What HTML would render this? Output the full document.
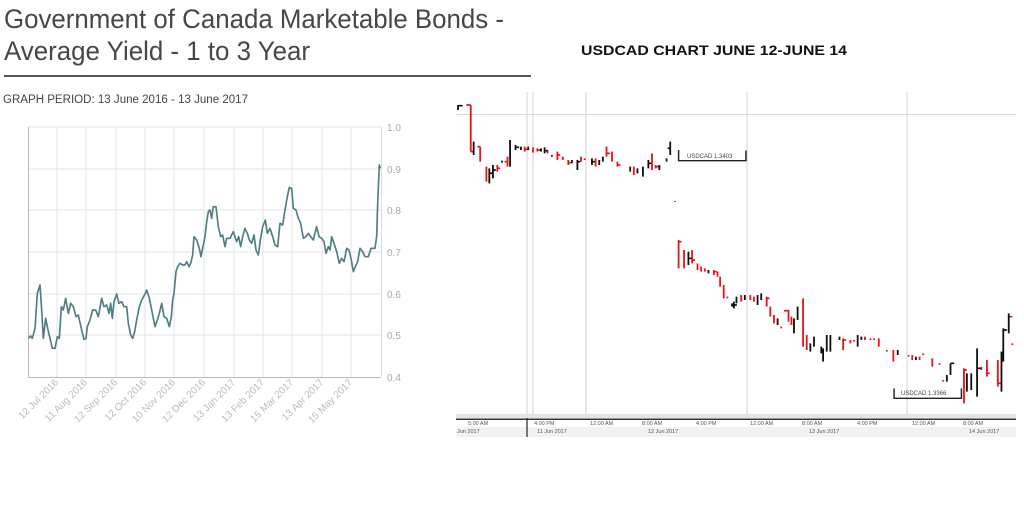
<!DOCTYPE html>
<html><head><meta charset="utf-8"><style>
html,body{margin:0;padding:0;background:#fff;width:1024px;height:528px;overflow:hidden}
svg{display:block}
</style></head><body>
<svg width="1024" height="528" viewBox="0 0 1024 528" xmlns="http://www.w3.org/2000/svg" font-family="Liberation Sans, sans-serif">
<rect width="1024" height="528" fill="#fff"/>
<text x="4" y="28" font-size="27" fill="#45474d" textLength="500" lengthAdjust="spacingAndGlyphs">Government of Canada Marketable Bonds -</text>
<text x="4" y="60" font-size="27" fill="#45474d" textLength="306" lengthAdjust="spacingAndGlyphs">Average Yield - 1 to 3 Year</text>
<rect x="4" y="75" width="527" height="2" fill="#555"/>
<text x="3" y="103" font-size="11.5" fill="#444" textLength="245" lengthAdjust="spacingAndGlyphs">GRAPH PERIOD: 13 June 2016 - 13 June 2017</text>
<text x="714" y="55" font-size="14" font-weight="bold" fill="#111" text-anchor="middle" textLength="266" lengthAdjust="spacingAndGlyphs">USDCAD CHART JUNE 12-JUNE 14</text>

<!-- left chart -->
<g stroke="#e6e6e6" stroke-width="1">
<line x1="28" y1="127" x2="381" y2="127"/><line x1="28" y1="169" x2="381" y2="169"/><line x1="28" y1="210" x2="381" y2="210"/><line x1="28" y1="252" x2="381" y2="252"/><line x1="28" y1="294" x2="381" y2="294"/><line x1="28" y1="335" x2="381" y2="335"/>
<line x1="57" y1="127" x2="57" y2="377"/><line x1="86" y1="127" x2="86" y2="377"/><line x1="116" y1="127" x2="116" y2="377"/><line x1="145" y1="127" x2="145" y2="377"/><line x1="174" y1="127" x2="174" y2="377"/><line x1="204" y1="127" x2="204" y2="377"/><line x1="234" y1="127" x2="234" y2="377"/><line x1="263" y1="127" x2="263" y2="377"/><line x1="292" y1="127" x2="292" y2="377"/><line x1="322" y1="127" x2="322" y2="377"/><line x1="351" y1="127" x2="351" y2="377"/>
</g>
<line x1="28.5" y1="127" x2="28.5" y2="377" stroke="#bbb"/>
<line x1="28" y1="377.5" x2="381" y2="377.5" stroke="#bbb"/>
<line x1="381.5" y1="127" x2="381.5" y2="377" stroke="#ddd"/>
<g font-size="10" fill="#aaa">
<text x="387" y="131">1.0</text><text x="387" y="173">0.9</text><text x="387" y="214">0.8</text><text x="387" y="256">0.7</text><text x="387" y="298">0.6</text><text x="387" y="339">0.5</text><text x="387" y="381">0.4</text>
</g>
<g font-size="10" fill="#bbb" text-anchor="end">
<text transform="translate(59,383) rotate(-45)">12 Jul 2016</text>
<text transform="translate(88,383) rotate(-45)">11 Aug 2016</text>
<text transform="translate(118,383) rotate(-45)">12 Sep 2016</text>
<text transform="translate(147,383) rotate(-45)">12 Oct 2016</text>
<text transform="translate(176,383) rotate(-45)">10 Nov 2016</text>
<text transform="translate(206,383) rotate(-45)">12 Dec 2016</text>
<text transform="translate(236,383) rotate(-45)">13 Jan 2017</text>
<text transform="translate(265,383) rotate(-45)">13 Feb 2017</text>
<text transform="translate(294,383) rotate(-45)">15 Mar 2017</text>
<text transform="translate(324,383) rotate(-45)">13 Apr 2017</text>
<text transform="translate(353,383) rotate(-45)">15 May 2017</text>
</g>
<g transform="translate(0,90) scale(0.33333)">
<polyline fill="none" stroke="#4f7f82" stroke-width="5" stroke-linejoin="round" points="85,745 92,738 97,745 105,715 112,610 120,585 125,660 130,745 137,685 143,715 150,745 157,775 165,775 172,740 178,745 184,650 190,660 197,625 205,670 212,640 220,650 228,680 235,675 245,720 252,748 258,745 262,710 270,690 278,660 287,660 295,680 305,625 312,650 320,645 327,670 332,640 337,685 342,635 350,612 357,640 365,635 372,650 380,650 385,700 392,735 398,745 404,725 410,690 418,650 425,630 435,612 440,600 448,625 455,660 465,710 472,690 478,670 485,640 492,680 500,685 508,710 514,680 518,630 522,610 528,545 533,530 540,520 548,525 555,525 560,515 567,530 572,520 578,495 582,440 590,450 598,475 603,500 608,475 615,440 620,395 625,365 630,360 635,385 640,350 648,350 655,410 662,440 668,435 675,470 680,445 690,445 700,425 710,455 716,440 722,470 728,440 735,415 742,430 748,450 755,460 762,435 768,480 775,495 781,450 788,410 796,390 802,430 810,415 818,440 825,465 833,470 840,400 848,405 855,360 862,320 868,292 875,295 880,355 888,360 895,385 902,400 910,445 918,440 925,430 932,440 940,450 946,425 950,410 957,440 965,445 972,455 978,490 985,470 990,480 995,440 1002,460 1010,485 1018,520 1025,505 1032,515 1040,475 1047,480 1053,505 1060,545 1066,530 1073,515 1080,475 1088,485 1095,500 1105,500 1113,475 1125,475 1130,440 1133,340 1138,225 1141,235"/>
</g>

<!-- right chart -->
<line x1="456" y1="114.5" x2="1016" y2="114.5" stroke="#d8d8d8"/>
<g stroke="#e0e0e0" stroke-width="1.5">
<line x1="527" y1="92" x2="527" y2="418"/><line x1="533" y1="92" x2="533" y2="418"/><line x1="586" y1="92" x2="586" y2="418"/><line x1="747" y1="92" x2="747" y2="418"/><line x1="907" y1="92" x2="907" y2="418"/>
</g>
<rect x="456" y="414" width="560" height="4" fill="#e4e4e4"/>
<rect x="456" y="418.5" width="560" height="1.5" fill="#333"/>
<rect x="456" y="427" width="560" height="10" fill="#f2f2f2"/>
<line x1="527" y1="418" x2="527" y2="437" stroke="#222" stroke-width="1.2"/>
<g font-size="5.5" fill="#556">
<text x="468" y="425">5:00 AM</text><text x="534" y="425">4:00 PM</text><text x="590" y="425">12:00 AM</text><text x="642" y="425">8:00 AM</text><text x="696" y="425">4:00 PM</text><text x="750" y="425">12:00 AM</text><text x="802" y="425">8:00 AM</text><text x="857" y="425">4:00 PM</text><text x="912" y="425">12:00 AM</text><text x="963" y="425">8:00 AM</text>
<text x="457" y="433">Jun 2017</text><text x="537" y="433">11 Jun 2017</text><text x="648" y="433">12 Jun 2017</text><text x="809" y="433">13 Jun 2017</text><text x="969" y="433">14 Jun 2017</text>
</g>
<g transform="translate(450,90) scale(0.364,0.33333)" stroke-width="5" fill="none">
<g stroke="#e8141c">
<path d="M57 45V185M83 170V215M100 230V275M130 225V245M158 200V230M205 170V185M228 172V188M240 175V185M268 180V190M295 185V210M310 200V210M325 210V225M360 200V215M370 205V210M400 205V230M430 170V200M445 185V215M460 215V230M505 230V255M555 190V240M565 225V235M618 333V336M628 450V535M643 480V535M665 480V520M680 520V540M690 530V545M700 535V545M725 540V555M735 545V560M742 560V590M752 585V625M762 620V625M800 615V635M825 615V630M835 620V635M870 620V650M880 650V680M890 675V700M910 710V715M920 660V665M930 660V695M938 680V705M970 625V770M980 735V780M1080 745V780M1100 750V760M1110 750V755M1140 740V750M1155 745V750M1165 745V750M1178 745V770M1200 780V785M1218 780V815M1260 795V800M1270 795V810M1290 800V810M1300 790V795M1325 805V830M1345 820V825M1355 870V875M1412 835V940M1460 830V840M1475 810V860M1505 810V890M1545 760V765"/>
<path d="M45 45H57M57 185H66M83 170H75M130 235H138M158 215H150M205 178H215M240 180H248M295 195H303M325 218H333M430 190H440M460 225H468M565 230H578M628 455H636M665 510H673M725 545H733M870 625H878M920 662H930M1080 750H1088M1412 840H1420M1475 850H1483M1505 880H1513M1535 680H1545"/>
</g>
<g stroke="#111">
<path d="M22 45V60M65 155V195M108 235V280M118 225V265M143 212V218M165 150V230M180 165V180M195 170V180M215 170V180M250 175V185M260 172V190M280 195V200M335 210V220M350 210V240M390 205V225M410 210V225M420 200V215M495 230V245M515 235V250M530 230V260M545 210V235M575 225V240M595 205V215M605 155V195M655 485V525M710 540V550M775 640V650M780 635V655M787 620V640M810 615V630M845 615V645M855 610V630M900 685V705M945 685V730M955 650V690M990 760V785M1000 740V770M1020 770V790M1025 775V815M1035 735V785M1045 735V785M1070 740V750M1120 735V770M1130 740V750M1230 780V795M1280 800V810M1365 855V875M1375 820V855M1420 850V905M1432 850V900M1448 775V920M1515 785V905M1520 715V815M1535 670V730"/>
<path d="M22 47H35M108 250H116M118 240H126M180 172H190M260 182H268M350 215H358M390 215H398M545 220H553M605 175H598M655 505H663M780 645H788M1025 785H1018M1375 820H1385M1448 835H1458M1520 720H1530"/>
</g>
<g stroke="#222" stroke-width="4">
<path d="M628 180V212H813V182"/>
<path d="M1220 895V925H1405V895"/>
</g>
</g>
<g fill="#445" font-size="6">
<text x="687" y="158">USDCAD 1.3403</text>
<text x="901" y="395">USDCAD 1.3366</text>
</g>
</svg>
</body></html>
